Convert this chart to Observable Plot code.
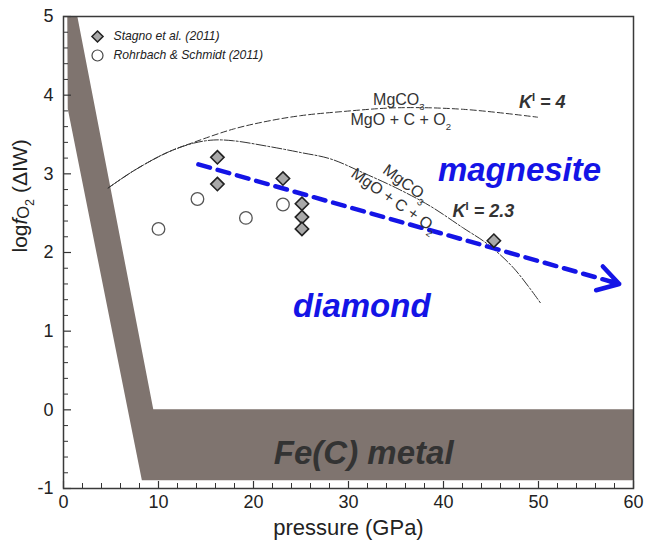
<!DOCTYPE html>
<html>
<head>
<meta charset="utf-8">
<script src="https://cdn.jsdelivr.net/npm/d3@7"></script>
<script src="https://cdn.jsdelivr.net/npm/@observablehq/plot@0.6"></script>
<style>
  html, body { margin: 0; padding: 0; background: #fff; }
  #chart { width: 647px; height: 544px; }
</style>
</head>
<body>
<div id="chart"></div>
<script>
// ---------- data ----------
const xTicks = [0, 10, 20, 30, 40, 50, 60];
const yTicks = [-1, 0, 1, 2, 3, 4, 5];
const xMinor = [2, 4, 6, 8, 12, 14, 16, 18, 22, 24, 26, 28, 32, 34, 36, 38, 42, 44, 46, 48, 52, 54, 56, 58];
const yMinor = [-0.8, -0.6, -0.4, -0.2, 0.2, 0.4, 0.6, 0.8, 1.2, 1.4, 1.6, 1.8, 2.2, 2.4, 2.6, 2.8, 3.2, 3.4, 3.6, 3.8, 4.2, 4.4, 4.6, 4.8];

// Fe(C) metal field polygon (y, left x, right x)
const bandY     = [5,    3.82, 0,    0,    -0.9];
const bandLeft  = [0.45, 0.5,  6.81, 6.81, 8.3];
const bandRight = [1.5,  3.39, 9.5,  60,   60];

// MgCO3 = MgO + C + O2, K' = 4
const k4P  = [4.7, 7.4, 10.9, 13.7, 17.9, 21.5, 25.0, 29.2, 35.2, 42.1, 49.9];
const k4F  = [2.82, 3.04, 3.27, 3.40, 3.57, 3.67, 3.74, 3.79, 3.84, 3.82, 3.72];
// MgCO3 = MgO + C + O2, K' = 2.3
const k23P = [4.7, 7.4, 10.9, 13.7, 15.8, 17.9, 21.5, 25.0, 28.1, 31.6, 35.2, 38.6, 42.1, 44.6, 47.4, 50.2];
const k23F = [2.82, 3.04, 3.27, 3.39, 3.43, 3.42, 3.35, 3.27, 3.19, 3.01, 2.81, 2.59, 2.31, 2.11, 1.80, 1.36];

// Stagno et al. (2011)
const stagnoP = [16.2, 16.2, 23.1, 25.1, 25.1, 25.1, 45.3];
const stagnoF = [3.21, 2.87, 2.94, 2.62, 2.45, 2.30, 2.15];
// Rohrbach & Schmidt (2011)
const rohrP = [10.0, 14.1, 19.2, 23.1];
const rohrF = [2.30, 2.68, 2.44, 2.61];

// blue trend arrow
const trendP = [14.2, 58.5];
const trendF = [3.12, 1.60];

const legendLabels = ["Stagno et al. (2011)", "Rohrbach & Schmidt (2011)"];

// ---------- helpers ----------
const band = bandY.map((y, i) => ({y, x1: bandLeft[i], x2: bandRight[i]}));
const k4 = k4P.map((p, i) => ({p, f: k4F[i]}));
const k23 = k23P.map((p, i) => ({p, f: k23F[i]}));
const stagno = stagnoP.map((p, i) => ({p, f: stagnoF[i]}));
const rohr = rohrP.map((p, i) => ({p, f: rohrF[i]}));
const trend = trendP.map((p, i) => ({p, f: trendF[i]}));
const trendSeg = [{x1: trendP[0], y1: trendF[0], x2: trendP[1], y2: trendF[1]}];

const FONT = "'Liberation Sans', Arial, Helvetica, sans-serif";
const BLUE = "#1414e6";
const INK = "#333";
const plotH = 544 - 16 - 56;

const plot = Plot.plot({
  width: 647,
  height: 544,
  marginLeft: 63,
  marginRight: 14,
  marginTop: 16,
  marginBottom: 56,
  style: {fontFamily: FONT, color: "#222", background: "#fff"},
  x: {domain: [0, 60], label: null},
  y: {domain: [-1, 5], label: null},
  marks: [
    Plot.areaX(band, {y: "y", x1: "x1", x2: "x2", fill: "#7f746f", curve: "linear"}),
    // inward ticks
    Plot.tickX(xMinor, {x: d => d, stroke: "#333", strokeWidth: 1, insetTop: plotH - 5}),
    Plot.tickX(xTicks, {x: d => d, stroke: "#333", strokeWidth: 1.2, insetTop: plotH - 7}),
    Plot.tickY(yMinor, {y: d => d, stroke: "#333", strokeWidth: 1, insetRight: 570 - 5}),
    Plot.tickY(yTicks, {y: d => d, stroke: "#333", strokeWidth: 1.2, insetRight: 570 - 8}),
    Plot.axisX({ticks: xTicks, tickSize: 0, tickPadding: 7, fontSize: 18, tickFormat: d => String(d)}),
    Plot.axisY({ticks: yTicks, tickSize: 0, tickPadding: 10, fontSize: 18, tickFormat: d => String(d)}),
    Plot.frame({stroke: "#3a3a3a", strokeWidth: 1.5}),
    // curves
    Plot.line(k4, {x: "p", y: "f", curve: "catmull-rom", stroke: INK, strokeWidth: 1, strokeDasharray: "6,3"}),
    Plot.line(k23, {x: "p", y: "f", curve: "catmull-rom", stroke: INK, strokeWidth: 1, strokeDasharray: "10,2,2,2"}),
    // blue trend
    Plot.line(trend, {x: "p", y: "f", stroke: BLUE, strokeWidth: 4.5, strokeDasharray: "12,8"}),
    Plot.arrow(trendSeg, {x1: "x1", y1: "y1", x2: "x2", y2: "y2", stroke: BLUE, strokeWidth: 4.5,
      headLength: 8, headAngle: 62, insetStart: 428, strokeLinejoin: "miter"}),
    // data points
    Plot.dot(rohr, {x: "p", y: "f", r: 6.3, symbol: "circle", fill: "#fff", stroke: "#555", strokeWidth: 1.3}),
    Plot.dot(stagno, {x: "p", y: "f", r: 6, symbol: "diamond2", fill: "#a9a9a9", stroke: "#222", strokeWidth: 1.6}),
    // legend
    Plot.dot([legendLabels[0]], {x: null, y: null, frameAnchor: "top-left", dx: 34, dy: 20, r: 5, symbol: "diamond2", fill: "#a9a9a9", stroke: "#222", strokeWidth: 1.5}),
    Plot.dot([legendLabels[1]], {x: null, y: null, frameAnchor: "top-left", dx: 34, dy: 39, r: 5.5, symbol: "circle", fill: "#fff", stroke: "#444", strokeWidth: 1.2}),
    Plot.text([legendLabels[0]], {frameAnchor: "top-left", dx: 50, dy: 20, textAnchor: "start", lineAnchor: "middle", fontSize: 12.2, fontStyle: "italic", fill: "#222"}),
    Plot.text([legendLabels[1]], {frameAnchor: "top-left", dx: 50, dy: 39, textAnchor: "start", lineAnchor: "middle", fontSize: 12.2, fontStyle: "italic", fill: "#222"}),
    // curve labels
    Plot.text(["MgCO_{3}"], {x: 35.3, y: 3.94, fontSize: 16, fill: INK, lineAnchor: "middle"}),
    Plot.text(["MgO + C + O_{2}"], {x: 35.5, y: 3.68, fontSize: 16, fill: INK, lineAnchor: "middle"}),
    Plot.text(["MgCO_{3}"], {x: 36.0, y: 2.88, fontSize: 16, fill: INK, rotate: 36, lineAnchor: "middle"}),
    Plot.text(["MgO + C + O_{2}"], {x: 34.8, y: 2.66, fontSize: 16, fill: INK, rotate: 35, lineAnchor: "middle"}),
    Plot.text(["K^{I} = 4"], {x: 50.4, y: 3.91, fontSize: 18, fontWeight: "bold", fontStyle: "italic", fill: INK, lineAnchor: "middle"}),
    Plot.text(["K^{I} = 2.3"], {x: 44.2, y: 2.52, fontSize: 18, fontWeight: "bold", fontStyle: "italic", fill: INK, lineAnchor: "middle"}),
    // field labels
    Plot.text(["magnesite"], {x: 48.0, y: 3.04, fontSize: 33, fontWeight: "bold", fontStyle: "italic", fill: BLUE, lineAnchor: "middle"}),
    Plot.text(["diamond"], {x: 31.4, y: 1.31, fontSize: 33, fontWeight: "bold", fontStyle: "italic", fill: BLUE, lineAnchor: "middle"}),
    Plot.text(["Fe(C) metal"], {x: 31.6, y: -0.55, fontSize: 33, fontWeight: "bold", fontStyle: "italic", fill: "#333", lineAnchor: "middle"}),
    // axis titles
    Plot.text(["pressure (GPa)"], {frameAnchor: "bottom", dy: 39, fontSize: 22, fill: "#222", lineAnchor: "middle"}),
    Plot.text(["log*{f}~{O}_{2} (ΔIW)"], {frameAnchor: "left", dx: -43, rotate: -90, fontSize: 21, fill: "#222", lineAnchor: "middle"})
  ]
});

document.getElementById("chart").appendChild(plot);

// rich text: _{..} subscript, ~{..} small lowered, ^{..} superscript, *{..} italic
d3.select(plot).selectAll("text").each(function () {
  const t = this.textContent;
  if (!/[_^*~]\{/.test(t)) return;
  const fs = parseFloat(getComputedStyle(this).fontSize) || 16;
  const el = d3.select(this);
  el.text(null);
  const re = /([_^*~])\{([^}]*)\}/g;
  let last = 0, m, shift = 0;
  const add = (str, kind) => {
    if (!str) return;
    const ts = el.append("tspan").text(str);
    let target = 0;
    if (kind === "_") { ts.attr("font-size", fs * 0.6); target = fs * 0.3; }
    else if (kind === "~") { ts.attr("font-size", fs * 0.78); target = fs * 0.1; }
    else if (kind === "^") { ts.attr("font-size", fs * 0.62); target = -fs * 0.4; ts.attr("font-style", "normal"); }
    else if (kind === "*") { ts.attr("font-style", "italic"); }
    const dy = target - shift;
    if (dy) ts.attr("dy", dy);
    shift = target;
  };
  while ((m = re.exec(t))) {
    add(t.slice(last, m.index), "");
    add(m[2], m[1]);
    last = re.lastIndex;
  }
  add(t.slice(last), "");
});
</script>
</body>
</html>
